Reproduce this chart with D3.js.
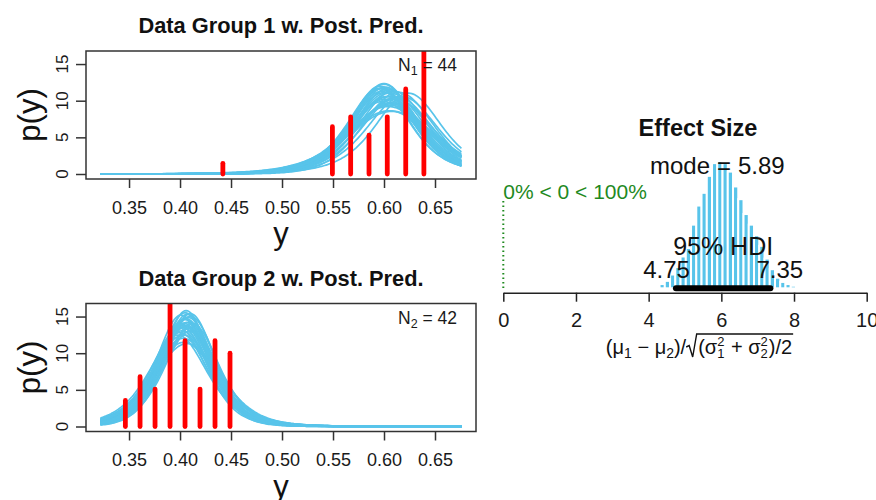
<!DOCTYPE html>
<html><head><meta charset="utf-8">
<script src="https://cdn.jsdelivr.net/npm/d3@7"></script>
<style>
body{margin:0;background:#fff}
svg{display:block}
text{font-family:"Liberation Sans",Arial,Helvetica,sans-serif}
</style>
</head><body>
<svg id="c" width="876" height="500"></svg>
<script>
// ---------------- DATA ----------------
const panelTitles = ["Data Group 1 w. Post. Pred.", "Data Group 2 w. Post. Pred."];
const sampleSizes = [44, 42];
const xTickValues = [0.35, 0.40, 0.45, 0.50, 0.55, 0.60, 0.65];
const yTickValues = [0, 5, 10, 15];

// red data histograms (bin centre, density)
const group1Bins = [0.442, 0.5494, 0.5673, 0.5853, 0.6032, 0.6213, 0.6391];
const group1Dens = [1.45, 6.45, 7.8, 5.3, 7.8, 11.6, 17.5];
const group2Bins = [0.3464, 0.3608, 0.3755, 0.3902, 0.4049, 0.4196, 0.4343, 0.449];
const group2Dens = [3.55, 6.8, 5.1, 17.5, 11.7, 5.1, 11.7, 10.0];

// posterior predictive t curves (one entry per credible parameter draw)
const ppGrid = [0.3219, 0.6759];
const ppNu     = [5, 4, 6, 8, 3.5, 5, 7, 4.5, 6, 10, 5, 4, 6, 9, 5, 3.8, 7, 5.5, 4.2, 6.5, 8, 5, 4.8, 12, 6, 5, 4, 7, 5.2, 6];
const ppMu1    = [0.600, 0.598, 0.603, 0.606, 0.596, 0.604, 0.609, 0.601, 0.597, 0.611, 0.605, 0.602, 0.607, 0.600, 0.613, 0.595, 0.608, 0.603, 0.599, 0.610, 0.604, 0.601, 0.606, 0.614, 0.598, 0.618, 0.624, 0.606, 0.602, 0.600];
const ppSigma1 = [0.031, 0.032, 0.033, 0.035, 0.031, 0.036, 0.034, 0.037, 0.033, 0.038, 0.044, 0.034, 0.040, 0.035, 0.036, 0.032, 0.045, 0.033, 0.038, 0.037, 0.042, 0.032, 0.039, 0.035, 0.034, 0.036, 0.034, 0.041, 0.036, 0.031];
const ppMu2    = [0.405, 0.403, 0.407, 0.408, 0.400, 0.404, 0.410, 0.402, 0.406, 0.409, 0.404, 0.401, 0.406, 0.405, 0.411, 0.398, 0.407, 0.404, 0.399, 0.408, 0.403, 0.406, 0.402, 0.410, 0.405, 0.412, 0.409, 0.403, 0.401, 0.406];
const ppSigma2 = [0.026, 0.027, 0.025, 0.026, 0.029, 0.027, 0.025, 0.028, 0.026, 0.030, 0.033, 0.027, 0.028, 0.025, 0.029, 0.030, 0.034, 0.026, 0.028, 0.027, 0.031, 0.024, 0.029, 0.026, 0.028, 0.027, 0.028, 0.032, 0.025, 0.027];

// effect size posterior histogram
const effBreakStart = 4.30;
const effBinWidth = 0.1444;
const effDens = [0.02, 0.035, 0.065, 0.10, 0.15, 0.19, 0.30, 0.39, 0.45, 0.53, 0.59, 0.60, 0.59, 0.55, 0.48, 0.42, 0.35, 0.30, 0.25, 0.20, 0.14, 0.09, 0.05, 0.03, 0.02, 0.012, 0.008];
const effMode = 5.89;
const effHdi = [4.75, 7.35];
const effTicks = [0, 2, 4, 6, 8, 10];
const compVal = 0, pctBelow = 0, pctAbove = 100;

// ---------------- HELPERS ----------------
const BLUE = "#58c4ea", RED = "#ff0000", GREEN = "#1f8a1f", INK = "#1a1a1a";
const NB = "\u00A0";
function lgamma(x){
  const g=7, c=[0.99999999999980993,676.5203681218851,-1259.1392167224028,771.32342877765313,-176.61502916214059,12.507343278686905,-0.13857109526572012,9.9843695780195716e-6,1.5056327351493116e-7];
  if(x<0.5) return Math.log(Math.PI/Math.sin(Math.PI*x))-lgamma(1-x);
  x-=1; let a=c[0]; const t=x+g+0.5;
  for(let i=1;i<g+2;i++) a+=c[i]/(x+i);
  return 0.5*Math.log(2*Math.PI)+(x+0.5)*Math.log(t)-t+Math.log(a);
}
function dt(x, mu, s, nu){
  const z=(x-mu)/s;
  return Math.exp(lgamma((nu+1)/2)-lgamma(nu/2)-0.5*Math.log(nu*Math.PI))/s*Math.pow(1+z*z/nu,-(nu+1)/2);
}

const svg = d3.select("#c");
svg.append("rect").attr("width",876).attr("height",500).attr("fill","#fff");

// ---------------- LEFT PANELS ----------------
function drawPanel(idx, zeroY, bins, dens, mus, sigmas){
  const top = zeroY - 123, bottom = zeroY + 5, left = 86, right = 476;
  const x = d3.scaleLinear().domain([0.3078, 0.6902]).range([left, right]);
  const y = d3.scaleLinear().domain([-0.682, 16.78]).range([bottom, top]);
  const g = svg.append("g");
  const cid = "clip"+idx;
  svg.append("clipPath").attr("id",cid).append("rect")
    .attr("x",left).attr("y",top).attr("width",right-left).attr("height",bottom-top);

  // title
  g.append("text").attr("x",(left+right)/2).attr("y",top-18)
    .attr("text-anchor","middle").attr("font-weight","bold").attr("font-size",21.8)
    .attr("fill","#111").text(panelTitles[idx]);

  // curves
  const grid = d3.range(0,241).map(i => ppGrid[0] + (ppGrid[1]-ppGrid[0])*i/240);
  const line = d3.line().x(d=>x(d[0])).y(d=>y(d[1]));
  const cg = g.append("g").attr("clip-path",`url(#${cid})`);
  mus.forEach((mu,i) => {
    cg.append("path").attr("d", line(grid.map(v => [v, dt(v, mu, sigmas[i], ppNu[i])])))
      .attr("fill","none").attr("stroke",BLUE).attr("stroke-width",1.7);
  });

  // N label
  const nt = g.append("text").attr("x",457).attr("y",top+20).attr("text-anchor","end")
    .attr("font-size",17.5).attr("fill",INK);
  nt.append("tspan").text("N");
  nt.append("tspan").attr("font-size",12.5).attr("dy",4).text(idx+1);
  nt.append("tspan").attr("dy",-4).text(NB + "=" + NB + sampleSizes[idx]);

  // red data bars
  cg.selectAll("line.bar").data(bins).join("line").attr("class","bar")
    .attr("x1",d=>x(d)).attr("x2",d=>x(d))
    .attr("y1",y(0)).attr("y2",(d,i)=>y(dens[i]))
    .attr("stroke",RED).attr("stroke-width",4.8).attr("stroke-linecap","round");

  // box
  g.append("rect").attr("x",left).attr("y",top).attr("width",right-left).attr("height",bottom-top)
    .attr("fill","none").attr("stroke","#333").attr("stroke-width",1.5);

  // x axis
  const xa = g.append("g").attr("transform",`translate(0,${bottom})`)
    .call(d3.axisBottom(x).tickValues(xTickValues).tickSize(9).tickPadding(13).tickFormat(d3.format(".2f")));
  xa.select(".domain").remove();
  xa.selectAll("line").attr("stroke","#333").attr("stroke-width",1.5);
  xa.selectAll("text").attr("font-size",18).attr("fill",INK).attr("font-family",null);

  // y axis
  const ya = g.append("g").attr("transform",`translate(${left},0)`)
    .call(d3.axisLeft(y).tickValues(yTickValues).tickSize(10).tickFormat(""));
  ya.select(".domain").remove();
  ya.selectAll("line").attr("stroke","#333").attr("stroke-width",1.5);
  g.selectAll("text.ytl").data(yTickValues).join("text").attr("class","ytl")
    .attr("transform",d=>`translate(68,${y(d)}) rotate(-90)`)
    .attr("text-anchor","middle").attr("font-size",17).attr("fill",INK).text(d=>d);

  // axis titles
  g.append("text").attr("transform",`translate(40,${(top+bottom)/2}) rotate(-90)`)
    .attr("text-anchor","middle").attr("font-size",31).attr("fill","#111").text("p(y)");
  g.append("text").attr("x",(left+right)/2).attr("y",bottom+65)
    .attr("text-anchor","middle").attr("font-size",31).attr("fill","#111").text("y");
}
drawPanel(0, 174, group1Bins, group1Dens, ppMu1, ppSigma1);
drawPanel(1, 426.5, group2Bins, group2Dens, ppMu2, ppSigma2);

// ---------------- EFFECT SIZE PANEL ----------------
const xe = d3.scaleLinear().domain([0,10]).range([503.3, 866.7]);
const ye = d3.scaleLinear().domain([0,0.6]).range([288.3, 161]);
const eg = svg.append("g");

eg.append("text").attr("x",698).attr("y",136).attr("text-anchor","middle")
  .attr("font-weight","bold").attr("font-size",23.5).attr("fill","#111").text("Effect Size");

// histogram
eg.selectAll("rect.hb").data(effDens).join("rect").attr("class","hb")
  .attr("x",(d,i)=>xe(effBreakStart + i*effBinWidth))
  .attr("width",xe(effBinWidth)-xe(0))
  .attr("y",d=>ye(d)).attr("height",d=>ye(0)-ye(d))
  .attr("fill",BLUE).attr("stroke","#fff").attr("stroke-width",2);

// comparison value
eg.append("line").attr("x1",xe(compVal)).attr("x2",xe(compVal)).attr("y1",201).attr("y2",290)
  .attr("stroke",GREEN).attr("stroke-width",2).attr("stroke-dasharray","1.5,3");
eg.append("text").attr("x",xe(compVal)).attr("y",199).attr("font-size",21).attr("fill",GREEN)
  .text(`${pctBelow}%${NB}<${NB}${compVal}${NB}<${NB}${pctAbove}%`);

// mode text
const mt = eg.append("text").attr("x",xe(effMode)).attr("y",174).attr("text-anchor","middle")
  .attr("font-size",24).attr("fill","#111");
mt.append("tspan").text("mode");
mt.append("tspan").attr("dx",7).text("=");
mt.append("tspan").attr("dx",7).text(effMode.toFixed(2));

// HDI
eg.append("line").attr("x1",xe(effHdi[0])).attr("x2",xe(effHdi[1])).attr("y1",ye(0)).attr("y2",ye(0))
  .attr("stroke","#000").attr("stroke-width",6).attr("stroke-linecap","round");
eg.append("text").attr("x",xe((effHdi[0]+effHdi[1])/2)).attr("y",255).attr("text-anchor","middle")
  .attr("font-size",25).attr("fill","#111").text("95% HDI");
const hl = eg.append("text").attr("x",xe(effHdi[0])).attr("y",278.3).attr("font-size",24).attr("fill","#111").text(effHdi[0].toFixed(2));
const hlw = hl.node().getComputedTextLength(); hl.attr("x", xe(effHdi[0]) - 0.7*hlw);
const hr = eg.append("text").attr("x",xe(effHdi[1])).attr("y",278.3).attr("font-size",24).attr("fill","#111").text(effHdi[1].toFixed(2));
const hrw = hr.node().getComputedTextLength(); hr.attr("x", xe(effHdi[1]) - 0.3*hrw);

// axis
const ea = eg.append("g").attr("transform","translate(0,292.7)")
  .call(d3.axisBottom(xe).tickValues(effTicks).tickSize(9).tickSizeOuter(0).tickPadding(11));
ea.select(".domain").attr("stroke","#222").attr("stroke-width",1.5);
ea.selectAll("line").attr("stroke","#222").attr("stroke-width",1.5);
ea.selectAll("text").attr("font-size",20).attr("fill",INK).attr("font-family",null);

// formula axis label
(function(){
  const fg = eg.append("g");
  let cx = 0;
  function add(t, fs, dy){
    const el = fg.append("text").attr("x",cx).attr("y",dy||0).attr("font-size",fs).attr("fill","#111").text(t);
    cx += el.node().getComputedTextLength();
  }
  function stack(sup, sub, fs){
    const a = fg.append("text").attr("x",cx).attr("y",-8).attr("font-size",fs).attr("fill","#111").text(sup);
    const b = fg.append("text").attr("x",cx).attr("y",4).attr("font-size",fs).attr("fill","#111").text(sub);
    cx += Math.max(a.node().getComputedTextLength(), b.node().getComputedTextLength()) + 1;
  }
  add("(μ",20); add("1",14,4); add(NB+"−"+NB+"μ",20); add("2",14,4); add(")/",20);
  const rx = cx; cx += 12;
  add("(σ",20); stack("2","1",13); add(NB+"+"+NB+"σ",20); stack("2","2",13); add(")/2",20);
  fg.append("path").attr("d",`M${rx},-7 L${rx+3},-8.5 L${rx+6.5},3 L${rx+10.5},-20 L${cx+1},-20`)
    .attr("fill","none").attr("stroke","#111").attr("stroke-width",1.4);
  fg.attr("transform",`translate(${699 - cx/2},354)`);
})();
</script>
</body></html>
